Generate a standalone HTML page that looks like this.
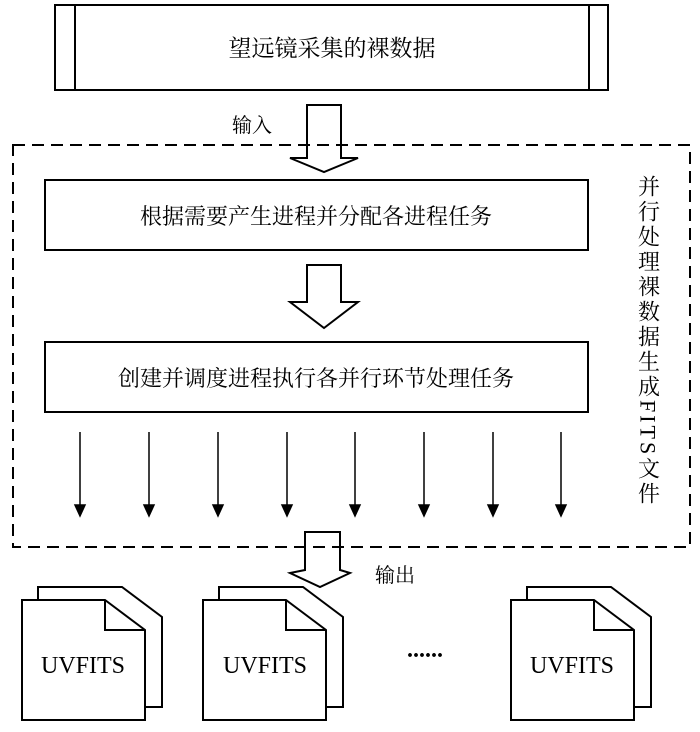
<!DOCTYPE html>
<html><head><meta charset="utf-8"><style>
body{margin:0;background:#fff;}
svg text{font-family:"Liberation Serif","Noto Serif CJK SC","Noto Sans CJK SC",serif;fill:#000;}
</style></head><body>
<svg width="700" height="727" viewBox="0 0 700 727" xmlns="http://www.w3.org/2000/svg">
<g fill="none" stroke="#000" stroke-width="2">
<rect x="55" y="5" width="553" height="85"/>
<line x1="75" y1="5" x2="75" y2="90"/>
<line x1="589" y1="5" x2="589" y2="90"/>
<rect x="13" y="145" width="677" height="402" stroke-dasharray="12,7"/>
<rect x="45" y="180" width="543" height="70"/>
<rect x="45" y="342" width="543" height="70"/>
<polygon points="307,105 341,105 341,158 358,158 324,172 290,158 307,158"/>
<polygon points="307,265 341,265 341,302 358,302 324,328 290,302 307,302"/>
<polygon points="305,532 340,532 340,570 350,573 320,587 290,573 305,570"/>
</g>
<g stroke="#000" stroke-width="1.5" fill="#000">
<g id="a"><line x1="80" y1="432" x2="80" y2="507"/><polygon points="75,505 85,505 80,516"/></g>
<use href="#a" x="69"/><use href="#a" x="138"/><use href="#a" x="207"/><use href="#a" x="275"/><use href="#a" x="344"/><use href="#a" x="413"/><use href="#a" x="481"/>
</g>
<g id="d" fill="#fff" stroke="#000" stroke-width="2">
<polygon points="38,587 122,587 162,617 162,707 38,707"/>
<polygon points="22,600 105,600 145,630 145,720 22,720"/>
<polyline points="105,600 105,630 145,630" fill="none"/>
</g>
<use href="#d" x="181"/><use href="#d" x="489"/>
<text x="332" y="56" font-size="23" text-anchor="middle">望远镜采集的裸数据</text>
<text x="232" y="132" font-size="20">输入</text>
<text x="316" y="224" font-size="22" text-anchor="middle">根据需要产生进程并分配各进程任务</text>
<text x="316" y="386" font-size="22" text-anchor="middle">创建并调度进程执行各并行环节处理任务</text>
<text x="375" y="582" font-size="20">输出</text>
<text x="83" y="673" font-size="24" text-anchor="middle">UVFITS</text>
<text x="265" y="673" font-size="24" text-anchor="middle">UVFITS</text>
<text x="572" y="673" font-size="24" text-anchor="middle">UVFITS</text>
<text x="425" y="657" font-size="24" text-anchor="middle" font-weight="bold">......</text>
<text x="648" y="175" font-size="22" style="writing-mode:vertical-rl;letter-spacing:3px">并行处理裸数据生成FITS文件</text>
</svg>
</body></html>
